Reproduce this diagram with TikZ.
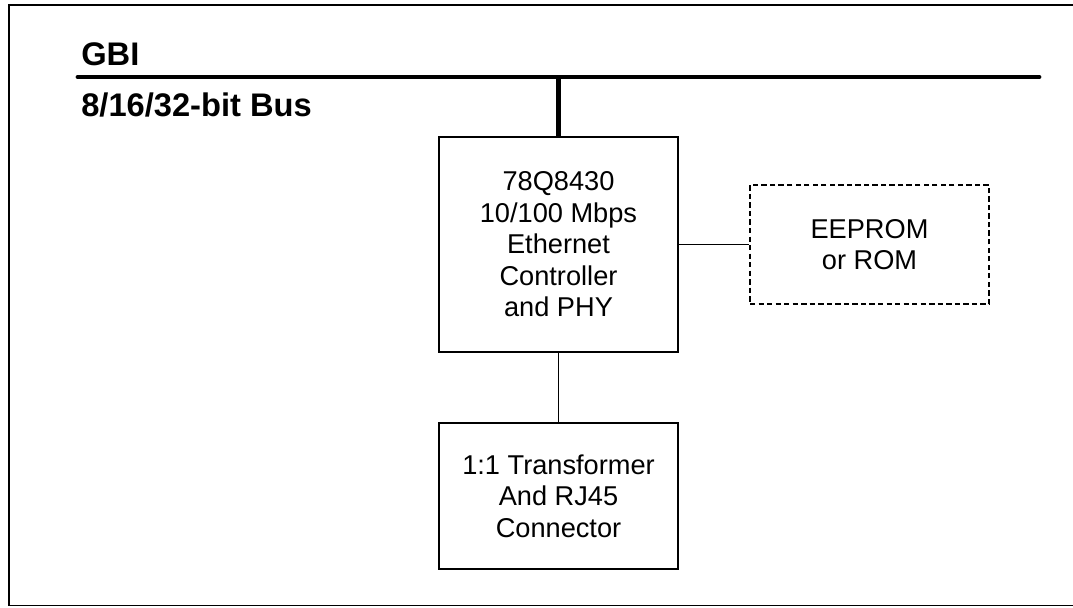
\documentclass[tikz,border=0pt]{standalone}
\usepackage{fontspec}
\setmainfont{Liberation Sans}
\usetikzlibrary{positioning}
\tikzset{
    block/.style={draw, line width=1pt, align=center, minimum width=179.25pt,
        font=\fontsize{20.4}{23.6}\selectfont, inner sep=0pt},
    optblock/.style={block, dash pattern=on 4pt off 2.4pt},
    buswire/.style={line width=3.6pt},
    wire/.style={line width=0.9pt},
    buslabel/.style={anchor=base west, inner sep=0pt, font=\fontsize{24.5}{28}\selectfont\bfseries}
}
\begin{document}
\begin{tikzpicture}[x=0.75pt, y=-0.75pt]
    \useasboundingbox (0,0) rectangle (1073,607);
    \draw [line width=1.3pt] (1080,5) -- (9,5) -- (9,605.5) -- (1080,605.5);

    \coordinate (busL) at (78,77);
    \coordinate (busR) at (1039,77);
    \draw [buswire, line cap=round] (busL) -- (busR);
    \node [buslabel] (gbi) at (81,65) {GBI};
    \node [buslabel] (width) at (81,116) {8/16/32-bit Bus};

    \node [block, minimum height=161.25pt] (ctrl) at (558.5,244.5)
        {78Q8430\\10/100 Mbps\\Ethernet\\Controller\\and PHY};
    \node [optblock, minimum height=89.25pt] (rom) at (869.5,244.5)
        {EEPROM\\or ROM};
    \node [block, minimum height=109.5pt] (xfmr) at (558.5,496)
        {1:1 Transformer\\And RJ45\\Connector};

    \draw [buswire] (ctrl.north) -- (ctrl.north |- busL);
    \draw [wire] (ctrl.east) -- (rom.west);
    \draw [wire] (ctrl.south) -- (xfmr.north);
\end{tikzpicture}
\end{document}
